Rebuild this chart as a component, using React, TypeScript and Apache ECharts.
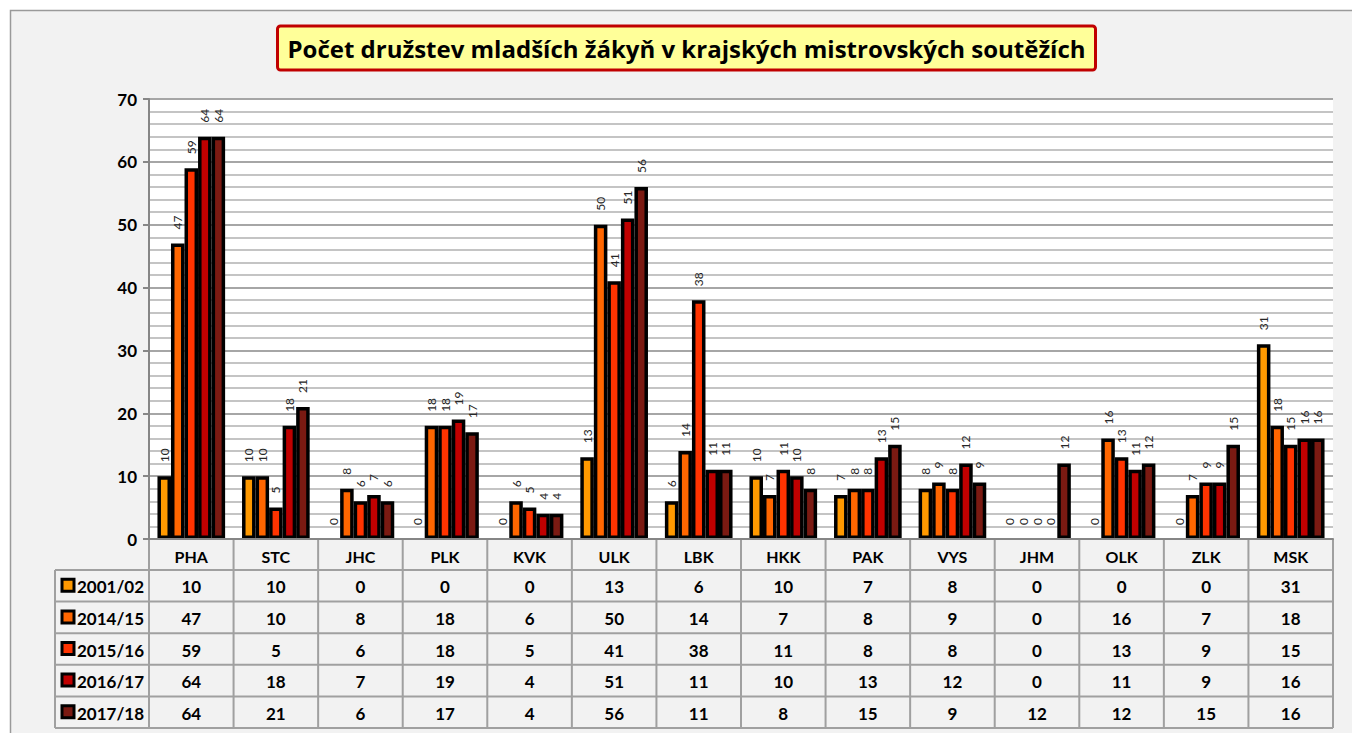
import React, { useEffect, useRef } from "react";
import * as echarts from "echarts";

const categories = ["PHA", "STC", "JHC", "PLK", "KVK", "ULK", "LBK", "HKK", "PAK", "VYS", "JHM", "OLK", "ZLK", "MSK"];
const seasons = ["2001/02", "2014/15", "2015/16", "2016/17", "2017/18"];
const s2001 = [10, 10, 0, 0, 0, 13, 6, 10, 7, 8, 0, 0, 0, 31];
const s2014 = [47, 10, 8, 18, 6, 50, 14, 7, 8, 9, 0, 16, 7, 18];
const s2015 = [59, 5, 6, 18, 5, 41, 38, 11, 8, 8, 0, 13, 9, 15];
const s2016 = [64, 18, 7, 19, 4, 51, 11, 10, 13, 12, 0, 11, 9, 16];
const s2017 = [64, 21, 6, 17, 4, 56, 11, 8, 15, 9, 12, 12, 15, 16];
const seriesValues = [s2001, s2014, s2015, s2016, s2017];
const colors = ["#FF9900", "#FF6600", "#FF3300", "#C00000", "#7B1A12"];
const titleText = "Počet družstev mladších žákyň v krajských mistrovských soutěžích";

const W = 1352;
const H = 733;
const GL = 149;
const GR = 1333;
const GT = 99;
const GB = 539;
const HEADER_BOTTOM = 570;
const TABLE_BOTTOM = 728;
const TABLE_LEFT = 55;
const FONT = "Lato, 'Open Sans', sans-serif";
const TITLE_FONT = "'Open Sans', Lato, sans-serif";

export default function App() {
  const ref = useRef<HTMLDivElement>(null);
  useEffect(() => {
    if (!ref.current) return;
    const chart = echarts.init(ref.current, undefined, { renderer: "svg" });
    const colW = (GR - GL) / categories.length;
    const rowH = (TABLE_BOTTOM - HEADER_BOTTOM) / seasons.length;
    const lineStyle = { stroke: "#a0a0a0", lineWidth: 2 };
    const graphics: any[] = [];
    graphics.push({
      type: "rect",
      z: -10,
      silent: true,
      shape: { x: 10.5, y: 10.5, width: 1400, height: 800 },
      style: { fill: "#f2f2f2", stroke: "#9a9a9a", lineWidth: 1.5 },
    });
    graphics.push({
      type: "rect",
      shape: { x: 277.5, y: 26, width: 818, height: 44, r: 3 },
      style: { fill: "#FFFF99", stroke: "#C00000", lineWidth: 3 },
    });
    graphics.push({
      type: "text",
      x: 686.5,
      y: 48,
      style: {
        text: titleText,
        fill: "#000",
        font: `bold 24px ${TITLE_FONT}`,
        align: "center",
        verticalAlign: "middle",
      },
    });
    for (let i = 0; i <= categories.length; i++) {
      const x = GL + i * colW;
      graphics.push({
        type: "line",
        shape: { x1: x, y1: GB, x2: x, y2: TABLE_BOTTOM },
        style: lineStyle,
      });
    }
    graphics.push({
      type: "line",
      shape: { x1: TABLE_LEFT, y1: HEADER_BOTTOM, x2: TABLE_LEFT, y2: TABLE_BOTTOM },
      style: lineStyle,
    });
    for (let r = 0; r <= seasons.length; r++) {
      const y = HEADER_BOTTOM + r * rowH;
      graphics.push({
        type: "line",
        shape: { x1: TABLE_LEFT, y1: y, x2: GR, y2: y },
        style: lineStyle,
      });
    }
    seasons.forEach((s, r) => {
      const cy = HEADER_BOTTOM + (r + 0.5) * rowH;
      graphics.push({
        type: "rect",
        shape: { x: 62, y: cy - 6.5, width: 12, height: 12 },
        style: { fill: colors[r], stroke: "#000", lineWidth: 3 },
      });
      graphics.push({
        type: "text",
        x: 77,
        y: cy + 1,
        style: {
          text: s,
          fill: "#000",
          font: `bold 17px ${FONT}`,
          align: "left",
          verticalAlign: "middle",
        },
      });
      seriesValues[r].forEach((v, i) => {
        graphics.push({
          type: "text",
          x: GL + (i + 0.5) * colW,
          y: cy + 1,
          style: {
            text: String(v),
            fill: "#000",
            font: `bold 17px ${FONT}`,
            align: "center",
            verticalAlign: "middle",
          },
        });
      });
    });

    const option: any = {
      animation: false,
      backgroundColor: "#ffffff",
      textStyle: { fontFamily: FONT },
      grid: {
        left: GL,
        right: W - GR,
        top: GT,
        bottom: H - GB,
        show: true,
        backgroundColor: "#ffffff",
        borderWidth: 0,
      },
      xAxis: {
        type: "category",
        data: categories,
        axisLine: { show: true, lineStyle: { color: "#868686", width: 2 } },
        axisTick: { show: false },
        axisLabel: {
          margin: 9,
          fontSize: 16,
          fontWeight: "bold",
          color: "#000",
          fontFamily: FONT,
        },
        z: 5,
      },
      yAxis: {
        type: "value",
        min: 0,
        max: 70,
        interval: 10,
        axisLine: { show: true, lineStyle: { color: "#868686", width: 2 } },
        axisTick: { show: true, length: 6, lineStyle: { color: "#868686", width: 2 } },
        axisLabel: {
          margin: 12,
          fontSize: 17,
          fontWeight: "bold",
          color: "#000",
          fontFamily: FONT,
        },
        splitLine: { show: true, lineStyle: { color: "#a6a6a6", width: 2 } },
        minorTick: { show: false, splitNumber: 5 },
        minorSplitLine: { show: true, lineStyle: { color: "#c4c4c4", width: 2 } },
      },
      series: seasons.map((name, k) => ({
        name,
        type: "bar",
        data: seriesValues[k].map((v) =>
          v === 0 ? { value: v, itemStyle: { borderWidth: 0 } } : v
        ),
        barGap: "0%",
        barCategoryGap: "20%",
        itemStyle: { color: colors[k], borderColor: "#000", borderWidth: 3.5 },
        label: {
          show: true,
          position: "top",
          rotate: 90,
          align: "left",
          verticalAlign: "middle",
          distance: 14,
          fontSize: 12,
          color: "#262626",
          fontFamily: FONT,
        },
      })),
      graphic: graphics,
    };
    chart.setOption(option);
    return () => chart.dispose();
  }, []);
  return (
    <div
      ref={ref}
      style={{ position: "absolute", left: 0, top: 0, width: W, height: H }}
    />
  );
}
